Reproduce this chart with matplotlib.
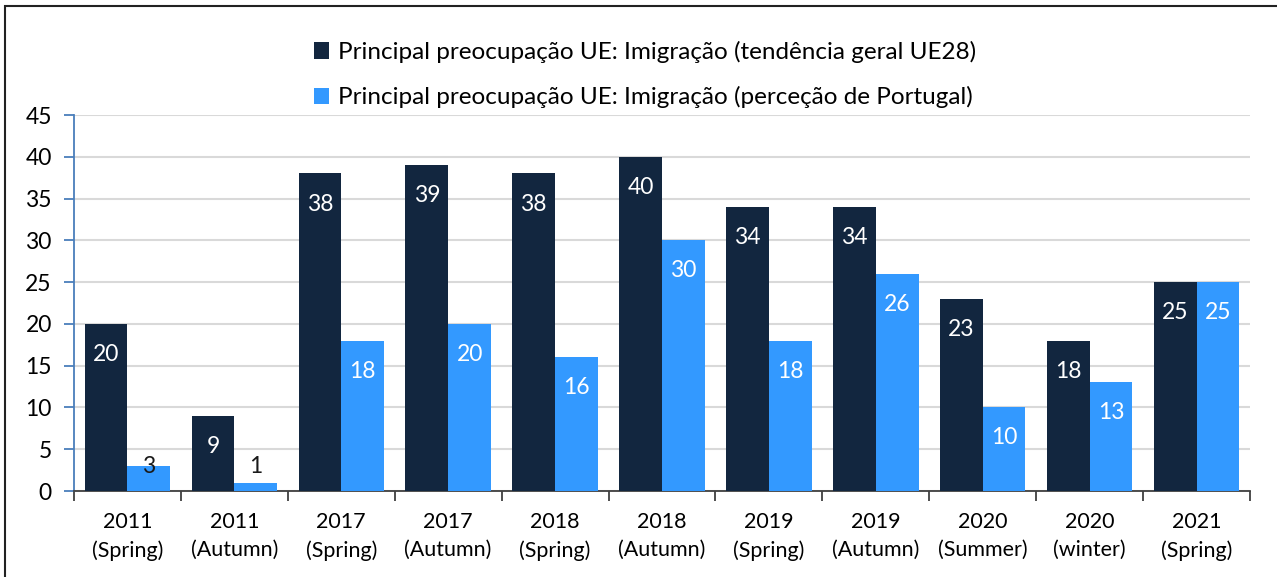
import numpy as np
import matplotlib
matplotlib.use("Agg")
import matplotlib.pyplot as plt
from matplotlib.patches import Rectangle

plt.rcParams['font.family'] = ['Lato', 'DejaVu Sans']

categorias = ["2011\n(Spring)", "2011\n(Autumn)", "2017\n(Spring)", "2017\n(Autumn)",
              "2018\n(Spring)", "2018\n(Autumn)", "2019\n(Spring)", "2019\n(Autumn)",
              "2020\n(Summer)", "2020\n(winter)", "2021\n(Spring)"]
ue28 = [20, 9, 38, 39, 38, 40, 34, 34, 23, 18, 25]
portugal = [3, 1, 18, 20, 16, 30, 18, 26, 10, 13, 25]
nome_ue28 = "Principal preocupação UE: Imigração (tendência geral UE28)"
nome_pt = "Principal preocupação UE: Imigração (perceção de Portugal)"

cor_escura = "#12263F"
cor_clara = "#3399FF"
cor_eixo = "#4A7EBB"

fig = plt.figure(figsize=(12.77, 5.77), dpi=100)
ax = fig.add_axes([74/1277, 1-491/577, (1250-74)/1277, (491-115)/577])

x = np.arange(len(categorias))
w = 0.4
b1 = ax.bar(x - w/2, ue28, w, color=cor_escura, label=nome_ue28, zorder=3)
b2 = ax.bar(x + w/2, portugal, w, color=cor_clara, label=nome_pt, zorder=3)

# rotulos dentro do topo das barras
for barras in (b1, b2):
    for r in barras:
        v = r.get_height()
        cx = r.get_x() + r.get_width()/2
        if v < 4:
            ax.text(cx, 2.9, "%d" % v, ha='center', va='center', fontsize=16.5,
                    color='#1a1a1a', zorder=4)
        else:
            ax.annotate("%d" % v, (cx, v), xytext=(0, -22), textcoords='offset points',
                        ha='center', va='center', fontsize=16.5, color='white', zorder=4)

ax.set_xlim(-0.5, len(categorias) - 0.5)
ax.set_ylim(0, 45)
ax.set_yticks(range(0, 46, 5))
ax.yaxis.grid(True, color='#D9D9D9', lw=1.5, zorder=0)
ax.set_axisbelow(True)

ax.set_xticks(x)
ax.set_xticklabels(categorias, fontsize=15.5, linespacing=1.5)
ax.set_xticks(np.arange(-0.5, len(categorias)), minor=True)
ax.tick_params(axis='x', which='major', length=0, pad=15)
ax.tick_params(axis='x', which='minor', length=7, width=1.3, color='#404040', direction='out')
ax.tick_params(axis='y', length=7, width=1.3, color=cor_eixo, labelsize=16.5, pad=9)

for s in ('top', 'right'):
    ax.spines[s].set_visible(False)
ax.spines['left'].set_color(cor_eixo)
ax.spines['left'].set_linewidth(1.3)
ax.spines['bottom'].set_color('#404040')
ax.spines['bottom'].set_linewidth(1.3)

leg = fig.legend(loc='upper center', bbox_to_anchor=(0.505, 1 - 19/577), ncol=1,
                 frameon=False, fontsize=17.5, handlelength=0.65, handleheight=0.65,
                 handletextpad=0.35, labelspacing=0.95)

# moldura exterior
fig.patches.append(Rectangle((5/1277, -0.05), 1.2, 1.05 - 6/577, transform=fig.transFigure,
                             fill=False, edgecolor='#222222', lw=1.5))

fig.savefig("out.png", dpi=100)
